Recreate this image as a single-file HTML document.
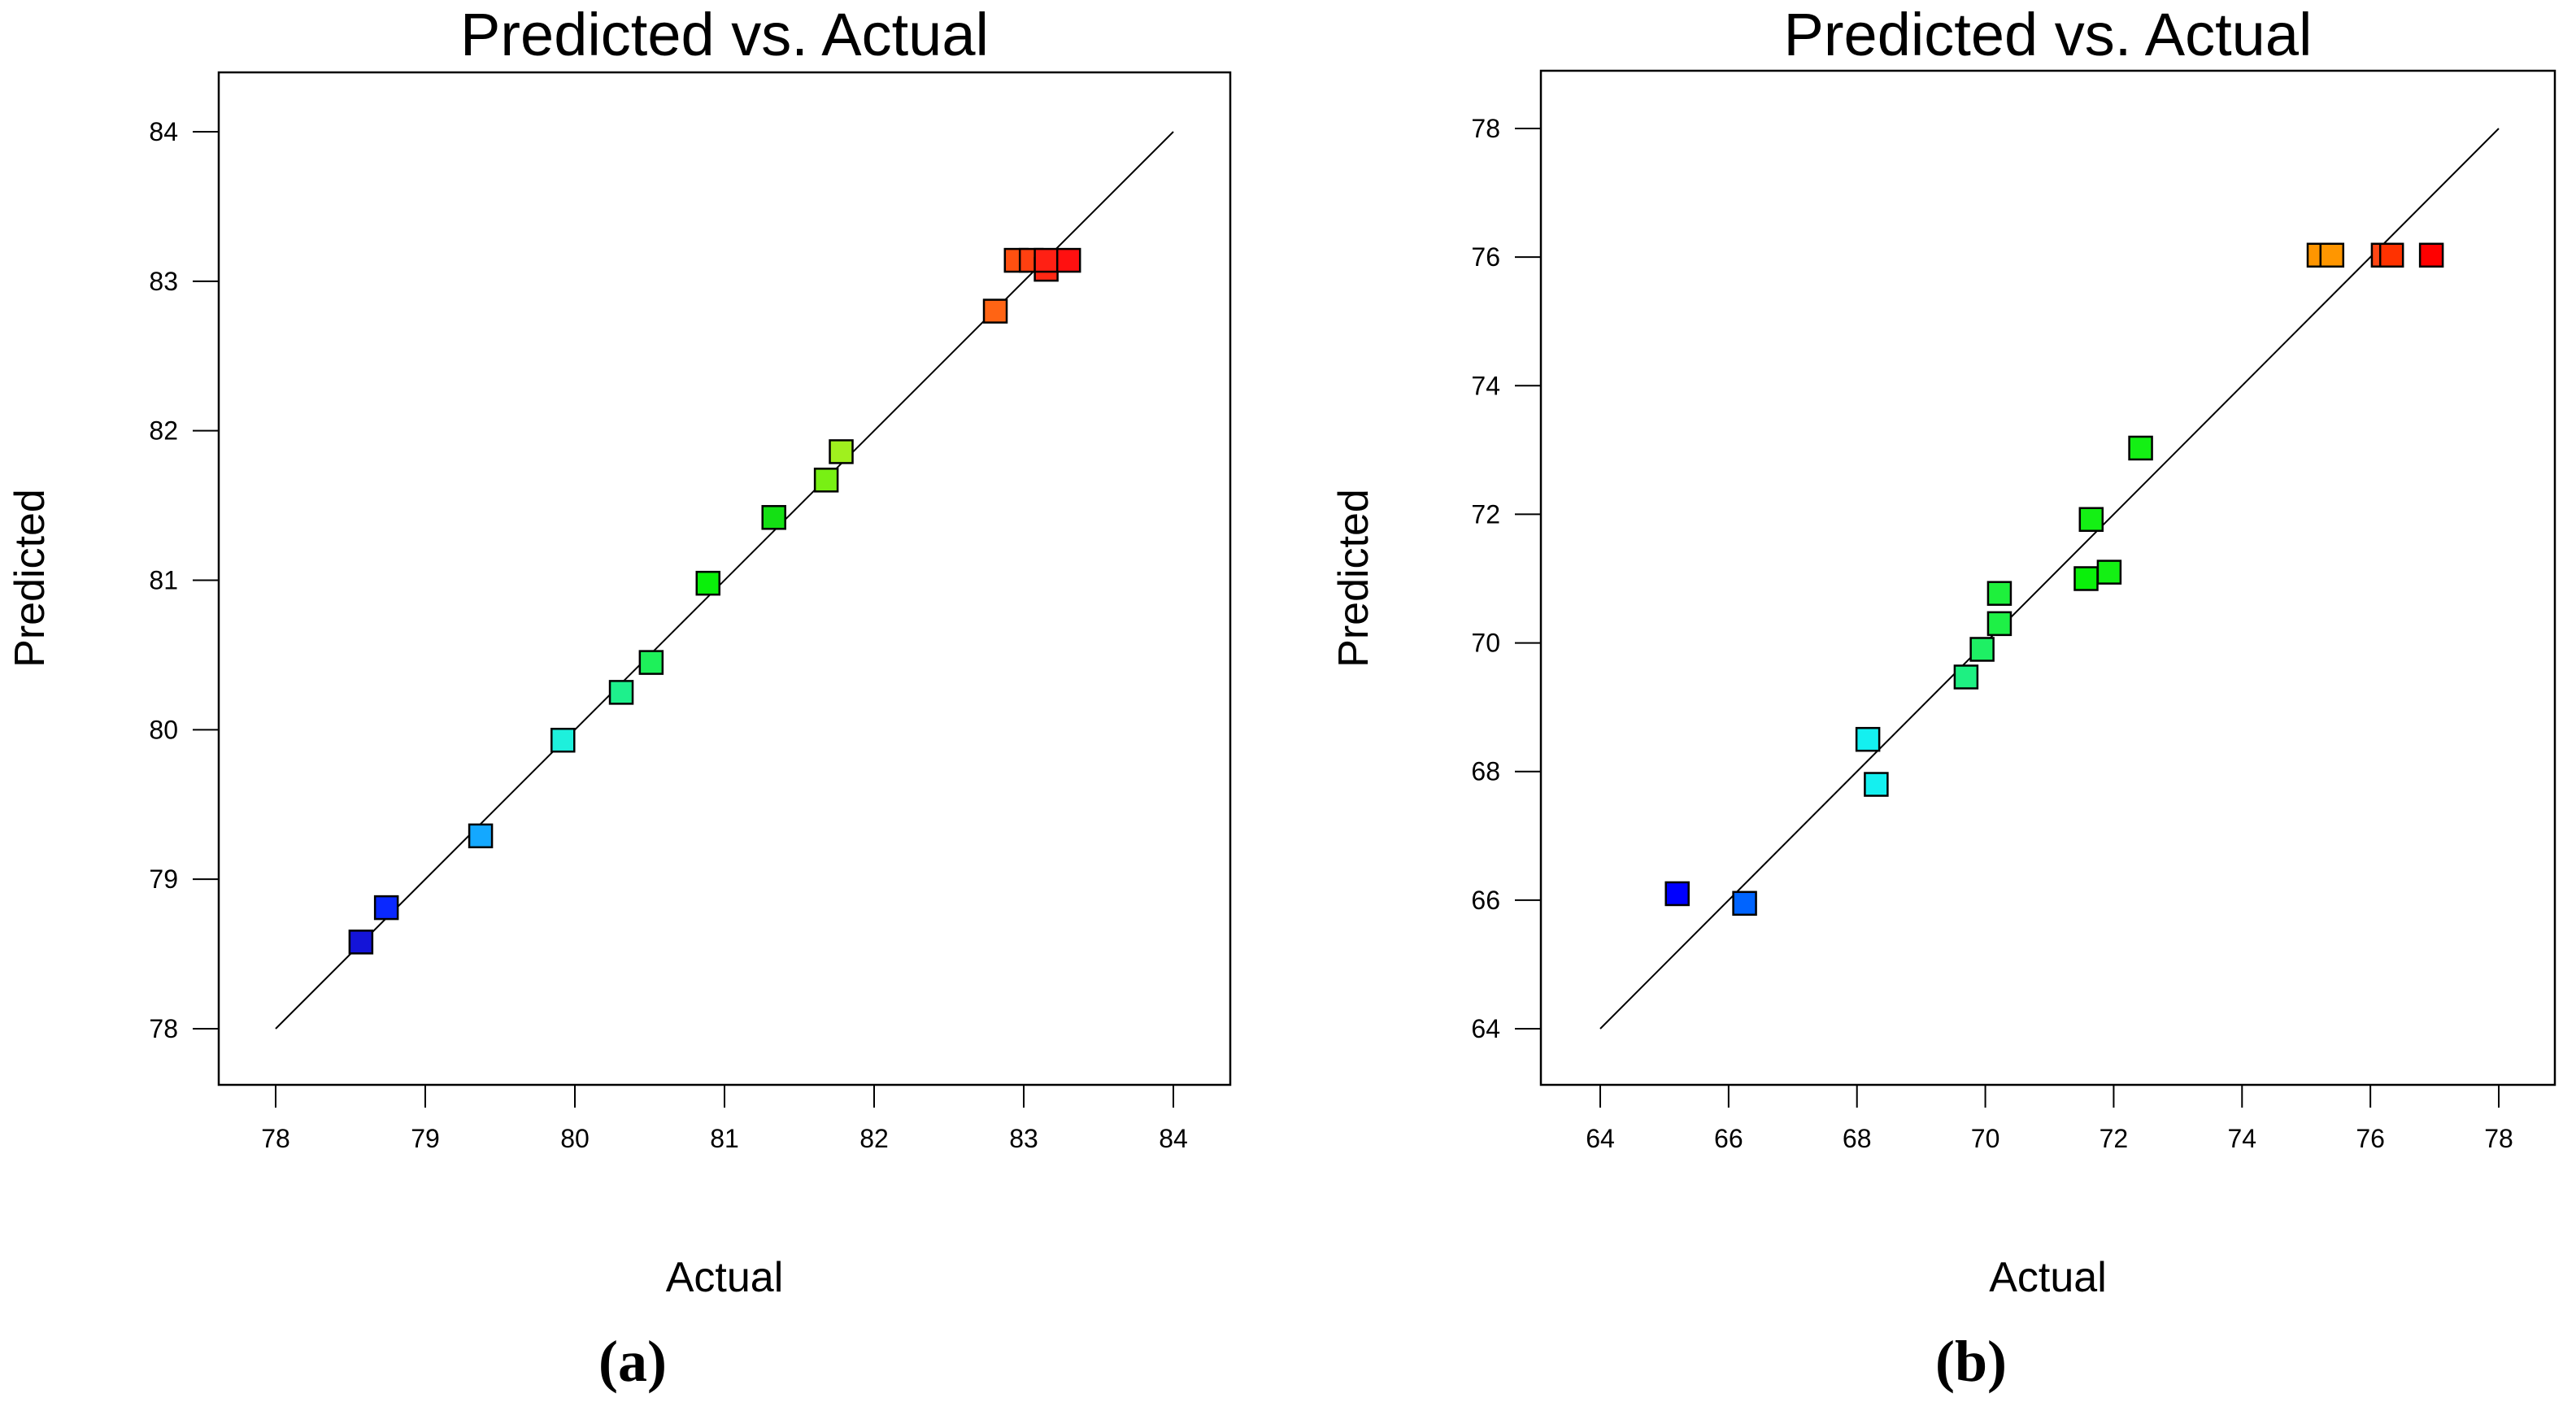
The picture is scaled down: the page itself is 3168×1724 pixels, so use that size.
<!DOCTYPE html>
<html><head><meta charset="utf-8"><style>
html,body{margin:0;padding:0;background:#fff;}
svg{display:block;}
</style></head><body>
<svg id="fig" width="3168" height="1724" viewBox="0 0 3168 1724" xmlns="http://www.w3.org/2000/svg">
<rect width="3168" height="1724" fill="#fff"/>
</svg>
<script>
// Panel (a) data
const aTicksX = [78,79,80,81,82,83,84];
const aTicksY = [78,79,80,81,82,83,84];
const aActual = [78.57,78.74,79.37,79.92,80.31,80.51,80.89,81.33,81.68,81.78,82.81,82.95,83.05,83.15,83.15,83.30];
const aPredicted = [78.58,78.81,79.29,79.93,80.25,80.45,80.98,81.42,81.67,81.86,82.80,83.14,83.14,83.08,83.14,83.14];
const aColors = ["#1414d8","#0a28ff","#14a8ff","#1ef0dc","#1ef08c","#1ef05a","#0af00a","#14e014","#78f014","#a0f01e","#ff6414","#ff5010","#ff4010","#ff2814","#ff2014","#ff1010"];
// Panel (b) data
const bTicksX = [64,66,68,70,72,74,76,78];
const bTicksY = [64,66,68,70,72,74,76,78];
const bActual = [65.2,66.25,68.17,68.3,69.7,69.95,70.22,70.22,71.57,71.65,71.93,72.42,75.2,75.4,76.2,76.33,76.95];
const bPredicted = [66.1,65.95,68.5,67.8,69.47,69.9,70.77,70.3,71.0,71.92,71.1,73.03,76.03,76.03,76.03,76.03,76.03];
const bColors = ["#0000ff","#0064ff","#14f0f0","#14f0f0","#1ef082","#1ef064","#1ef03c","#1ef046","#0af00a","#14f014","#14f014","#14f014","#ff9600","#ff9600","#ff4614","#ff3200","#ff0000"];

const NS="http://www.w3.org/2000/svg";
const svg=document.getElementById('fig');
function mk(tag,attrs,parent){const e=document.createElementNS(NS,tag);for(const k in attrs)e.setAttribute(k,attrs[k]);(parent||svg).appendChild(e);return e;}

function panel(cfg){
  const g=mk('g',{});
  
  
  const sx=v=>cfg.x0px+(v-cfg.xmin)*(cfg.x1px-cfg.x0px)/(cfg.xmax-cfg.xmin);
  const sy=v=>cfg.y0px+(v-cfg.ymin)*(cfg.y1px-cfg.y0px)/(cfg.ymax-cfg.ymin);
  const box=mk('rect',{x:cfg.bx,y:cfg.by,width:cfg.bw,height:cfg.bh,fill:'none',stroke:'#000','stroke-width':2.5},g);
  
  
  const t=mk('text',{x:cfg.bx+cfg.bw/2,y:68,'text-anchor':'middle','font-family':'Liberation Sans, sans-serif','font-size':74},g);
  t.textContent='Predicted vs. Actual';
  
  
  cfg.ticksX.forEach(v=>{
    const x=sx(v);
    mk('line',{x1:x,x2:x,y1:cfg.by+cfg.bh,y2:cfg.by+cfg.bh+28,stroke:'#000','stroke-width':2},g);
    const l=mk('text',{x:x,y:1411,'text-anchor':'middle','font-family':'Liberation Sans, sans-serif','font-size':32},g);
    l.textContent=v;
    
    
  });
  cfg.ticksY.forEach(v=>{
    const y=sy(v);
    mk('line',{x1:cfg.bx-32,x2:cfg.bx,y1:y,y2:y,stroke:'#000','stroke-width':2},g);
    const l=mk('text',{x:cfg.bx-50,y:y+11,'text-anchor':'end','font-family':'Liberation Sans, sans-serif','font-size':32},g);
    l.textContent=v;
    
    
  });
  const yl=mk('text',{x:0,y:0,transform:`translate(${cfg.ylabX},711) rotate(-90)`,'text-anchor':'middle','font-family':'Liberation Sans, sans-serif','font-size':52},g);
  yl.textContent='Predicted';
  
  
  const xl=mk('text',{x:cfg.bx+cfg.bw/2,y:1588,'text-anchor':'middle','font-family':'Liberation Sans, sans-serif','font-size':52},g);
  xl.textContent='Actual';
  
  
  const pl=mk('text',{x:cfg.labelX,y:1698,'text-anchor':'middle','font-family':'Liberation Serif, serif','font-size':72,'font-weight':'bold'},g);
  pl.textContent=cfg.label;
  
  
  const ref=mk('line',{x1:sx(cfg.xmin),y1:sy(cfg.ymin),x2:sx(cfg.xmax),y2:sy(cfg.ymax),stroke:'#000','stroke-width':2},g);
  
  
  cfg.act.forEach((a,i)=>{
    const s=28;
    const r=mk('rect',{x:sx(a)-s/2,y:sy(cfg.pred[i])-s/2,width:s,height:s,fill:cfg.colors[i],stroke:'#000','stroke-width':2.5},g);
    
    
  });
}
panel({name:'panel-a',bx:269,by:89,bw:1244,bh:1245,xmin:78,xmax:84,ymin:78,ymax:84,
  x0px:339,x1px:1443,y0px:1265,y1px:162,ticksX:aTicksX,ticksY:aTicksY,act:aActual,pred:aPredicted,colors:aColors,ylabX:54,label:'(a)',labelX:778});
panel({name:'panel-b',bx:1895,by:87,bw:1247,bh:1247,xmin:64,xmax:78,ymin:64,ymax:78,
  x0px:1968,x1px:3073,y0px:1265,y1px:158,ticksX:bTicksX,ticksY:bTicksY,act:bActual,pred:bPredicted,colors:bColors,ylabX:1682,label:'(b)',labelX:2424});
</script>
</body></html>
